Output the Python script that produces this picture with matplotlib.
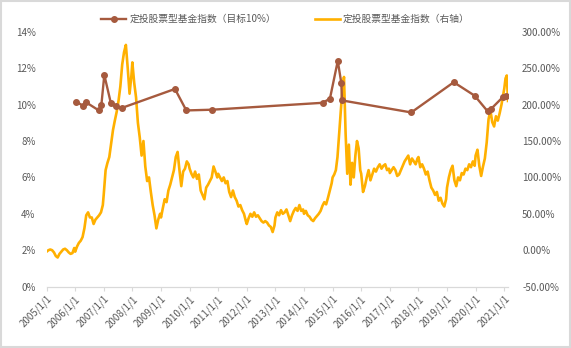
import numpy as np
import pandas as pd
import matplotlib
matplotlib.use("Agg")
import matplotlib.pyplot as plt
from matplotlib.patches import Rectangle

plt.rcParams['font.family'] = ['Noto Sans CJK SC', 'DejaVu Sans']

# 定投股票型基金指数 (目标10%) - left axis, %
target_dates = ['2006-01-15', '2006-04-10', '2006-05-15', '2006-10-30', '2006-12-01',
                '2007-01-08', '2007-04-01', '2007-06-01', '2007-08-28', '2009-06-28',
                '2009-11-20', '2010-10-18', '2014-08-28', '2014-11-28', '2015-03-08',
                '2015-04-22', '2015-05-01', '2017-10-01', '2019-03-28', '2019-12-20',
                '2020-06-01', '2020-07-18', '2020-12-20', '2021-01-20']
target_vals = [10.16, 9.94, 10.14, 9.68, 9.96,
               11.63, 10.09, 9.90, 9.83, 10.86,
               9.68, 9.72, 10.10, 10.33, 12.40,
               11.19, 10.23, 9.57, 11.23, 10.49,
               9.64, 9.77, 10.44, 10.48]

# 定投股票型基金指数 (右轴) - right axis, %, readings per calendar year
index_by_year = {
    2005: [-2, 0, 1, 0, -3, -8, -10, -5, -2, 1, 2, 0, -3, -5, -4, 3],
    2006: [-2, 5, 10, 13, 18, 30, 48, 52, 45, 45, 36, 42, 45, 48, 52, 62],
    2007: [77, 110, 120, 128, 146, 165, 178, 190, 205, 225, 255, 272, 282, 250, 215, 240],
    2008: [258, 230, 210, 175, 155, 130, 150, 115, 95, 100, 80, 62, 48, 30, 42, 50],
    2009: [45, 58, 70, 66, 82, 90, 100, 110, 128, 135, 110, 88, 108, 112, 122, 118],
    2010: [112, 105, 100, 108, 98, 104, 82, 76, 70, 86, 90, 95, 100, 115, 108, 100],
    2011: [105, 100, 95, 100, 92, 95, 80, 73, 82, 73, 68, 60, 62, 55, 50, 40],
    2012: [36, 44, 50, 46, 52, 46, 48, 44, 40, 38, 40, 38, 34, 32, 25, 34],
    2013: [45, 52, 48, 55, 50, 52, 56, 48, 40, 48, 54, 58, 54, 62, 54, 56],
    2014: [50, 54, 48, 46, 42, 40, 44, 47, 50, 54, 61, 66, 63, 72, 82, 92],
    2015: [100, 104, 110, 128, 160, 190, 220, 238, 160, 105, 145, 90, 120, 100, 130, 150, 140, 110],
    2016: [105, 80, 88, 100, 110, 96, 104, 112, 108, 114, 118, 112, 116, 118, 110, 112],
    2017: [106, 110, 114, 110, 102, 104, 110, 116, 122, 126, 130, 118, 126, 122, 118, 126],
    2018: [128, 114, 118, 112, 104, 108, 96, 86, 82, 76, 80, 68, 72, 64, 60, 70],
    2019: [86, 100, 110, 116, 96, 88, 100, 96, 106, 104, 112, 110, 118, 114, 122, 116],
    2020: [130, 138, 116, 102, 115, 126, 148, 180, 192, 176, 170, 184, 178, 188, 200, 215],
    2021: [222, 236, 240, 205],
}

idx_dates, idx_vals = [], []
for yr, vals in index_by_year.items():
    if yr == 2021:
        d = pd.date_range('2021-01-01', '2021-02-18', periods=len(vals))
    else:
        d = pd.date_range(f'{yr}-01-01', f'{yr}-12-20', periods=len(vals))
    idx_dates.extend(d)
    idx_vals.extend(vals)

year_ticks = [pd.Timestamp(f'{y}-01-01') for y in range(2005, 2022)]
year_labels = [f'{y}/1/1' for y in range(2005, 2022)]

fig = plt.figure(figsize=(5.71, 3.48), dpi=100)
fig.patches.append(Rectangle((0.002, 0.004), 0.996, 0.992, transform=fig.transFigure,
                             fill=False, edgecolor='#d9d9d9', linewidth=1.5))
ax = fig.add_axes([0.0816, 0.1764, 0.8084, 0.7322])
ax2 = ax.twinx()

brown = '#A65A3E'
gold = '#FFB000'
txt = '#595959'

l2, = ax2.plot(pd.to_datetime(idx_dates), idx_vals, color=gold, lw=1.9,
               label='定投股票型基金指数（右轴）', zorder=2)
l1, = ax.plot(pd.to_datetime(target_dates), target_vals, color=brown, lw=1.7,
              marker='o', markersize=4, label='定投股票型基金指数（目标10%）', zorder=3)
ax.set_zorder(ax2.get_zorder() + 1)
ax.patch.set_visible(False)

ax.set_ylim(0, 14)
ax.set_yticks(np.arange(0, 15, 2))
ax.set_yticklabels([f'{v}%' for v in range(0, 15, 2)])
ax2.set_ylim(-50, 300)
ax2.set_yticks(np.arange(-50, 301, 50))
ax2.set_yticklabels([f'{v:.2f}%' for v in range(-50, 301, 50)])

ax.set_xlim(pd.Timestamp('2005-01-01'), pd.Timestamp('2021-02-20'))
ax.set_xticks(year_ticks)
ax.set_xticklabels(year_labels, rotation=45, ha='right', rotation_mode='anchor')

for a in (ax, ax2):
    for s in ('top', 'left', 'right'):
        a.spines[s].set_visible(False)
    a.spines['bottom'].set_color('#d9d9d9')
ax.tick_params(axis='x', colors='#d9d9d9', labelcolor=txt, labelsize=7, length=3, pad=2)
ax.tick_params(axis='y', length=0, labelcolor=txt, labelsize=7, pad=8)
ax2.tick_params(axis='y', length=0, labelcolor=txt, labelsize=7, pad=10)

fig.legend(handles=[l1, l2], loc='upper center', bbox_to_anchor=(0.5, 0.985), ncol=2,
           frameon=False, fontsize=7, labelcolor=txt, columnspacing=4, handlelength=2.6,
           handletextpad=0.3)

fig.savefig('out.png', dpi=100)
